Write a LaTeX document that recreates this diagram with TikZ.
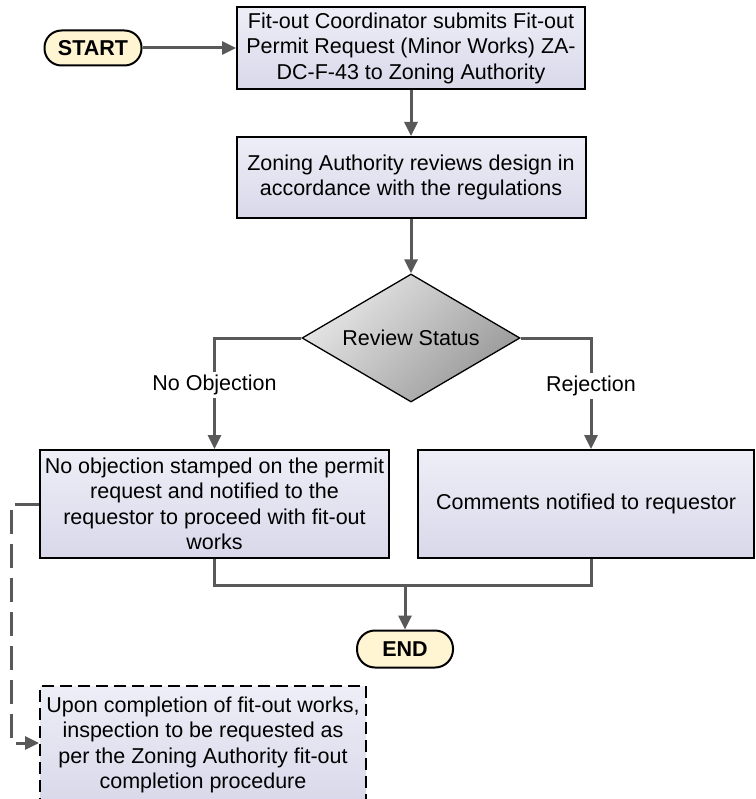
\documentclass[tikz,border=0pt]{standalone}
\usepackage{fontspec}
\setmainfont{Liberation Sans}
\usetikzlibrary{arrows.meta,shapes.geometric,calc}
\definecolor{linegray}{HTML}{595959}
\definecolor{boxtop}{HTML}{EEEEF7}
\definecolor{boxbot}{HTML}{D8D8EA}
\definecolor{pillfill}{HTML}{FFF5D2}
\definecolor{diamlight}{HTML}{E8E8E8}
\definecolor{diamdark}{HTML}{989898}
\tikzset{
  txt/.style={font=\fontsize{21.5}{25.5}\selectfont, align=center, inner sep=0pt},
  procbox/.style={txt, draw=black, line width=2pt, top color=boxtop, bottom color=boxbot},
  pill/.style={txt, draw=black, line width=2pt, fill=pillfill, rounded corners=17pt,
    font=\fontsize{21.5}{25.5}\selectfont\bfseries},
  decision/.style={txt, diamond, draw=black, line width=1.3pt, aspect=1.7,
    top color=diamlight, bottom color=diamdark, shading angle=45},
  conn/.style={draw=linegray, line width=3pt, -{Triangle[length=14pt,width=13pt]}},
  plain/.style={draw=linegray, line width=3pt},
  lbl/.style={txt, fill=white, inner sep=3pt},
}
\begin{document}
\begin{tikzpicture}[x=1pt,y=-1pt]
\clip (0,0) rectangle (755,799);
\fill[white] (0,0) rectangle (755,799);

\node[pill, minimum width=97pt, minimum height=35pt] (start) at (93,48) {START};
\node[procbox, minimum width=348pt, minimum height=82pt] (submit) at (411,48)
  {Fit-out Coordinator submits Fit-out\\Permit Request (Minor Works) ZA-\\DC-F-43 to Zoning Authority};
\node[procbox, minimum width=349pt, minimum height=81pt] (review) at (411,177.5)
  {Zoning Authority reviews design in\\accordance with the regulations};
\node[decision, minimum width=218pt, minimum height=128pt] (status) at (411,338) {Review Status};
\node[procbox, minimum width=349pt, minimum height=108pt] (noobj) at (214.5,504)
  {No objection stamped on the permit\\request and notified to the\\requestor to proceed with fit-out\\works};
\node[procbox, minimum width=336pt, minimum height=108pt] (reject) at (586,504)
  {Comments notified to requestor};
\node[pill, minimum width=96pt, minimum height=37pt, rounded corners=18pt] (end) at (405,649) {END};
\node[txt, draw=black, line width=2pt, dash pattern=on 12pt off 6pt,
  top color=boxtop, bottom color=boxbot, minimum width=326pt, minimum height=118pt,
  anchor=north] (inspect) at (203,685)
  {Upon completion of fit-out works,\\inspection to be requested as\\per the Zoning Authority fit-out\\completion procedure};

% main flow
\draw[conn] (start) -- (submit);
\draw[conn] (submit.south) -- (review.north);
\draw[conn] (review.south) -- (status.north);
\draw[conn] (status.west) -| node[lbl, pos=0.71] {No Objection} (noobj.north);
\draw[conn] (status.east) -| node[lbl, pos=0.715] {Rejection} ([xshift=5pt]reject.north);

% both outcomes join above END
\coordinate (join) at ($(end.north)+(0,-44)$);
\draw[plain] (noobj.south) |- (join) -| ([xshift=5pt]reject.south);
\draw[conn] (join) -- (end.north);

% follow-up after fit-out works
\draw[conn, dash pattern=on 24pt off 10pt] (noobj.west) -- ++(-28,0) |- (inspect.west |- 0,743);
\end{tikzpicture}
\end{document}
